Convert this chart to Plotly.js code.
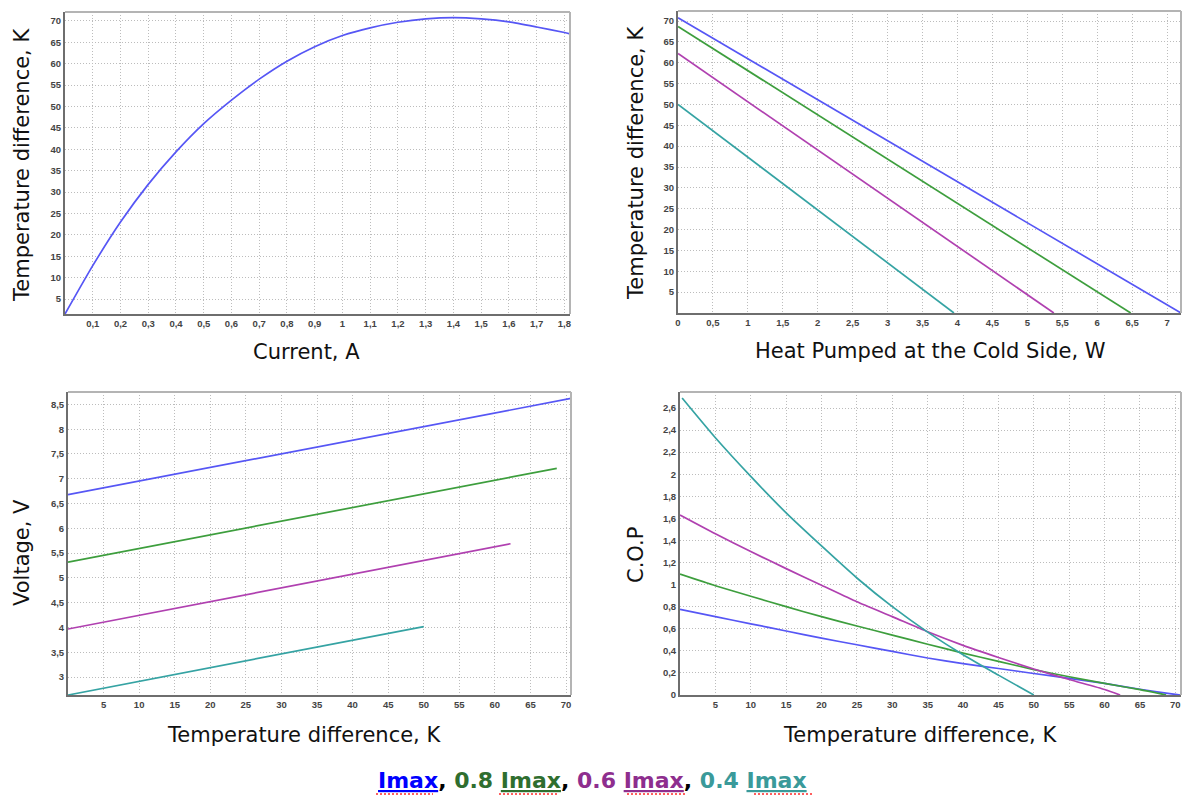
<!DOCTYPE html>
<html>
<head>
<meta charset="utf-8">
<script src="https://cdn.plot.ly/plotly-3.0.1.min.js"></script>
<style>
html,body{margin:0;padding:0;background:#fff;}
#chart{width:1184px;height:796px;}
</style>
</head>
<body>
<div id="chart"></div>
<script>
// ---------- Data ----------
// Panel 1: Temperature difference vs current (Imax curve)
const currentA = [0, 0.1, 0.2, 0.3, 0.4, 0.5, 0.6, 0.7, 0.8, 0.9, 1.0, 1.1, 1.2, 1.3, 1.4, 1.5, 1.6, 1.7, 1.8, 1.82];
const dTvsCurrent = [1.5, 12.8, 23.0, 31.8, 39.4, 46.0, 51.5, 56.4, 60.6, 64.0, 66.6, 68.4, 69.7, 70.5, 70.8, 70.5, 69.8, 68.6, 67.3, 67.0];

// Panel 2: Temperature difference vs heat pumped (straight lines, endpoints)
const qImax = [0, 7.2],   dtQImax = [70.8, 0];
const q08   = [0, 6.48],  dtQ08   = [68.7, 0];
const q06   = [0, 5.38],  dtQ06   = [62.2, 0];
const q04   = [0, 3.95],  dtQ04   = [50.0, 0];

// Panel 3: Voltage vs temperature difference
const vdtImax = [0, 70.7], vImax = [6.68, 8.62];
const vdt08   = [0, 68.7], v08   = [5.32, 7.21];
const vdt06   = [0, 62.2], v06   = [3.97, 5.69];
const vdt04   = [0, 50.0], v04   = [2.64, 4.02];

// Panel 4: COP vs temperature difference
const copDtImax = [0, 5, 10, 15, 20, 25, 30, 35, 40, 45, 50, 55, 60, 65, 70, 70.7];
const copImax   = [0.775, 0.71, 0.645, 0.58, 0.515, 0.455, 0.395, 0.335, 0.285, 0.24, 0.195, 0.15, 0.105, 0.052, 0.005, 0];
const copDt08   = [0, 5, 10, 15, 20, 25, 30, 35, 40, 45, 50, 55, 60, 65, 68.7];
const cop08     = [1.095, 0.99, 0.895, 0.80, 0.71, 0.625, 0.543, 0.46, 0.38, 0.305, 0.23, 0.165, 0.105, 0.048, 0];
const copDt06   = [0, 5, 10, 15, 20, 25, 30, 35, 40, 45, 50, 55, 60, 62.2];
const cop06     = [1.63, 1.46, 1.30, 1.145, 0.995, 0.845, 0.71, 0.573, 0.45, 0.34, 0.235, 0.14, 0.05, 0];
const copDt04   = [0.3, 5, 10, 15, 20, 25, 30, 35, 40, 45, 50];
const cop04     = [2.69, 2.33, 1.98, 1.65, 1.35, 1.06, 0.80, 0.57, 0.365, 0.18, 0];

// Tick values
const ticksCurrent = [0.1,0.2,0.3,0.4,0.5,0.6,0.7,0.8,0.9,1,1.1,1.2,1.3,1.4,1.5,1.6,1.7,1.8];
const ticksDT      = [5,10,15,20,25,30,35,40,45,50,55,60,65,70];
const ticksHeat    = [0,0.5,1,1.5,2,2.5,3,3.5,4,4.5,5,5.5,6,6.5,7];
const ticksVolt    = [3,3.5,4,4.5,5,5.5,6,6.5,7,7.5,8,8.5];
const ticksCOP     = [0,0.2,0.4,0.6,0.8,1,1.2,1.4,1.6,1.8,2,2.2,2.4,2.6];

// Series names / colours
const seriesNames = ['Imax', '0.8 Imax', '0.6 Imax', '0.4 Imax'];
const lineColors  = ['#5656f5', '#3d9e3d', '#b040b0', '#35a3a3'];
const legendColors = ['#0000ff', '#2f6e2f', '#8e2e8e', '#3a9a9a'];

// ---------- Traces ----------
const W = 1.7;
function tr(x, y, i, xa, ya, spline) {
  return {x: x, y: y, type: 'scatter', mode: 'lines', name: seriesNames[i],
          xaxis: xa, yaxis: ya, showlegend: false, hoverinfo: 'x+y',
          line: {color: lineColors[i], width: W, shape: spline ? 'spline' : 'linear', smoothing: 0.6}};
}
const data = [
  tr(currentA, dTvsCurrent, 0, 'x', 'y', true),
  tr(qImax, dtQImax, 0, 'x2', 'y2'),
  tr(q08, dtQ08, 1, 'x2', 'y2'),
  tr(q06, dtQ06, 2, 'x2', 'y2'),
  tr(q04, dtQ04, 3, 'x2', 'y2'),
  tr(vdtImax, vImax, 0, 'x3', 'y3'),
  tr(vdt08, v08, 1, 'x3', 'y3'),
  tr(vdt06, v06, 2, 'x3', 'y3'),
  tr(vdt04, v04, 3, 'x3', 'y3'),
  tr(copDtImax, copImax, 0, 'x4', 'y4', true),
  tr(copDt08, cop08, 1, 'x4', 'y4', true),
  tr(copDt06, cop06, 2, 'x4', 'y4', true),
  tr(copDt04, cop04, 3, 'x4', 'y4', true)
];

// ---------- Layout ----------
const FW = 1184, FH = 796;
const px = v => v / FW;
const py = v => 1 - v / FH;
const FONT = 'DejaVu Sans, Verdana, sans-serif';
const TICKFONT = 'Liberation Sans, Arial, sans-serif';

function ax(domain, range, ticks, anchor) {
  return {
    domain: domain, range: range, anchor: anchor,
    tickmode: 'array', tickvals: ticks, ticks: '',
    showgrid: true, gridcolor: '#bcbcbc', griddash: '1px,2px', gridwidth: 1,
    zeroline: false, showline: true, linecolor: '#6e6e6e', linewidth: 2, mirror: false,
    tickfont: {family: TICKFONT, size: 9.5, color: '#444', weight: 'bold'}, fixedrange: true
  };
}

const TFS = 21;
function ann(text, x, y, rot) {
  return {text: text, xref: 'paper', yref: 'paper', x: px(x), y: py(y),
          xanchor: 'center', yanchor: 'middle', showarrow: false, textangle: rot || 0,
          font: {family: FONT, size: TFS, color: '#111'}};
}

function u(txt, c) { return '<span style="color:' + c + ';text-decoration:underline">' + txt + '</span>'; }
function s(txt, c) { return '<span style="color:' + c + '">' + txt + '</span>'; }
const legendText = '<b>' +
  u(seriesNames[0], legendColors[0]) + s(', ', '#000') +
  s('0.8 ', legendColors[1]) + u('Imax', legendColors[1]) + s(', ', '#000') +
  s('0.6 ', legendColors[2]) + u('Imax', legendColors[2]) + s(', ', '#000') +
  s('0.4 ', legendColors[3]) + u('Imax', legendColors[3]) + '</b>';

// top/right frame edges (lighter grey), drawn in axis-domain space
const frame = [];
[['x','y'],['x2','y2'],['x3','y3'],['x4','y4']].forEach(p => {
  frame.push({type:'line', xref:p[0]+' domain', yref:p[1]+' domain', x0:0, x1:1, y0:1, y1:1,
              line:{color:'#b4b4b4', width:2}, layer:'above'});
  frame.push({type:'line', xref:p[0]+' domain', yref:p[1]+' domain', x0:1, x1:1, y0:0, y1:1,
              line:{color:'#b4b4b4', width:2}, layer:'above'});
});
// red dotted spell-check underlines under "Imax" in the caption
const spell = [[376,433],[499,557],[627,685],[754,812]].map(a => ({
  type:'line', xref:'paper', yref:'paper', x0:px(a[0]), x1:px(a[1]), y0:py(794), y1:py(794),
  line:{color:'#ff2a2a', width:1.5, dash:'2px,2px'}
}));

const layout = {
  width: FW, height: FH,
  margin: {l: 0, r: 0, t: 0, b: 0},
  paper_bgcolor: '#fff', plot_bgcolor: '#fff',
  separators: ', ',
  showlegend: false,
  font: {family: FONT},
  xaxis:  ax([px(65),  px(570)],  [0, 1.82], ticksCurrent, 'y'),
  yaxis:  ax([py(314), py(12)],   [1.5, 72.1], ticksDT, 'x'),
  xaxis2: ax([px(678), px(1181)], [0, 7.2], ticksHeat, 'y2'),
  yaxis2: ax([py(313), py(11)],   [0, 72.4], ticksDT, 'x2'),
  xaxis3: ax([px(68),  px(571)],  [0, 70.7], ticksDT, 'y3'),
  yaxis3: ax([py(695), py(392)],  [2.64, 8.75], ticksVolt, 'x3'),
  xaxis4: ax([px(680), px(1181)], [0, 70.8], ticksDT, 'y4'),
  yaxis4: ax([py(695), py(392)],  [0, 2.745], ticksCOP, 'x4'),
  shapes: frame.concat(spell),
  annotations: [
    ann('Temperature difference, K', 22, 165, -90),
    ann('Current, A', 307, 352),
    ann('Temperature difference, K', 636, 163, -90),
    ann('Heat Pumped at the Cold Side, W', 930, 351),
    ann('Voltage, V', 22, 553, -90),
    ann('Temperature difference, K', 304, 735),
    ann('C.O.P', 636, 555, -90),
    ann('Temperature difference, K', 920, 735),
    {text: legendText, xref: 'paper', yref: 'paper', x: px(592), y: py(780),
     xanchor: 'center', yanchor: 'middle', showarrow: false,
     font: {family: FONT, size: 22, color: '#000'}}
  ]
};

Plotly.newPlot('chart', data, layout, {displayModeBar: false, staticPlot: true});
</script>
</body>
</html>
